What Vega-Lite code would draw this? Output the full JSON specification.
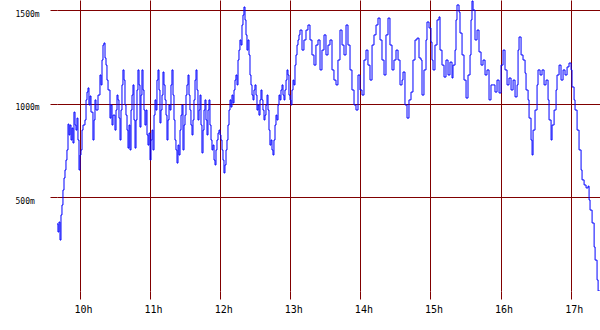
{
  "$schema": "https://vega.github.io/schema/vega-lite/v6.json",
  "width": 543,
  "height": 291,
  "autosize": {"type": "none"},
  "padding": {"left": 57, "top": 0, "right": 0, "bottom": 39},
  "background": "white",
  "view": {"stroke": null},
  "data": {"values": [
    {"hour":9.672,"value":358},{"hour":9.686,"value":315},{"hour":9.700,"value":368},{"hour":9.715,"value":272},{"hour":9.729,"value":406},{"hour":9.743,"value":459},{"hour":9.757,"value":539},{"hour":9.772,"value":603},{"hour":9.786,"value":646},{"hour":9.800,"value":699},{"hour":9.814,"value":753},{"hour":9.829,"value":891},{"hour":9.843,"value":833},{"hour":9.857,"value":886},{"hour":9.872,"value":806},{"hour":9.886,"value":870},{"hour":9.900,"value":790},{"hour":9.914,"value":955},{"hour":9.929,"value":886},{"hour":9.943,"value":859},{"hour":9.957,"value":923},{"hour":9.971,"value":806},{"hour":9.986,"value":646},{"hour":10.000,"value":726},{"hour":10.014,"value":753},{"hour":10.029,"value":859},{"hour":10.043,"value":886},{"hour":10.071,"value":913},{"hour":10.086,"value":1020},{"hour":10.100,"value":1062},{"hour":10.114,"value":1084},{"hour":10.128,"value":993},{"hour":10.143,"value":1041},{"hour":10.157,"value":955},{"hour":10.185,"value":806},{"hour":10.200,"value":913},{"hour":10.214,"value":1020},{"hour":10.228,"value":966},{"hour":10.257,"value":1046},{"hour":10.285,"value":1153},{"hour":10.300,"value":1100},{"hour":10.314,"value":1233},{"hour":10.328,"value":1313},{"hour":10.342,"value":1324},{"hour":10.357,"value":1244},{"hour":10.371,"value":1206},{"hour":10.385,"value":1126},{"hour":10.400,"value":1073},{"hour":10.428,"value":923},{"hour":10.442,"value":993},{"hour":10.457,"value":886},{"hour":10.471,"value":939},{"hour":10.499,"value":859},{"hour":10.514,"value":966},{"hour":10.528,"value":1046},{"hour":10.542,"value":1020},{"hour":10.556,"value":923},{"hour":10.571,"value":806},{"hour":10.585,"value":966},{"hour":10.599,"value":1100},{"hour":10.613,"value":1180},{"hour":10.628,"value":1126},{"hour":10.642,"value":993},{"hour":10.656,"value":939},{"hour":10.671,"value":859},{"hour":10.685,"value":763},{"hour":10.699,"value":886},{"hour":10.713,"value":753},{"hour":10.728,"value":966},{"hour":10.742,"value":1046},{"hour":10.756,"value":1100},{"hour":10.770,"value":913},{"hour":10.785,"value":763},{"hour":10.799,"value":913},{"hour":10.813,"value":1073},{"hour":10.827,"value":1180},{"hour":10.842,"value":1100},{"hour":10.856,"value":875},{"hour":10.870,"value":1046},{"hour":10.884,"value":1180},{"hour":10.899,"value":1073},{"hour":10.913,"value":966},{"hour":10.927,"value":886},{"hour":10.942,"value":966},{"hour":10.956,"value":833},{"hour":10.970,"value":779},{"hour":10.984,"value":843},{"hour":10.999,"value":699},{"hour":11.013,"value":806},{"hour":11.027,"value":859},{"hour":11.041,"value":753},{"hour":11.056,"value":939},{"hour":11.070,"value":1020},{"hour":11.084,"value":966},{"hour":11.098,"value":1126},{"hour":11.113,"value":1180},{"hour":11.127,"value":1073},{"hour":11.141,"value":897},{"hour":11.155,"value":966},{"hour":11.170,"value":1046},{"hour":11.184,"value":1169},{"hour":11.198,"value":1100},{"hour":11.213,"value":1020},{"hour":11.227,"value":939},{"hour":11.241,"value":806},{"hour":11.255,"value":913},{"hour":11.270,"value":993},{"hour":11.284,"value":966},{"hour":11.298,"value":1100},{"hour":11.312,"value":1180},{"hour":11.327,"value":1046},{"hour":11.341,"value":913},{"hour":11.355,"value":806},{"hour":11.369,"value":753},{"hour":11.384,"value":683},{"hour":11.398,"value":779},{"hour":11.412,"value":726},{"hour":11.427,"value":859},{"hour":11.441,"value":939},{"hour":11.455,"value":993},{"hour":11.469,"value":753},{"hour":11.484,"value":886},{"hour":11.498,"value":939},{"hour":11.512,"value":1046},{"hour":11.526,"value":1100},{"hour":11.541,"value":1153},{"hour":11.555,"value":1046},{"hour":11.569,"value":966},{"hour":11.583,"value":886},{"hour":11.598,"value":833},{"hour":11.612,"value":913},{"hour":11.626,"value":1020},{"hour":11.641,"value":1126},{"hour":11.655,"value":1180},{"hour":11.669,"value":1073},{"hour":11.683,"value":913},{"hour":11.698,"value":966},{"hour":11.712,"value":1046},{"hour":11.726,"value":886},{"hour":11.740,"value":737},{"hour":11.755,"value":859},{"hour":11.769,"value":966},{"hour":11.783,"value":1020},{"hour":11.797,"value":913},{"hour":11.812,"value":833},{"hour":11.826,"value":966},{"hour":11.840,"value":1020},{"hour":11.854,"value":886},{"hour":11.869,"value":806},{"hour":11.883,"value":753},{"hour":11.897,"value":779},{"hour":11.912,"value":699},{"hour":11.926,"value":673},{"hour":11.940,"value":753},{"hour":11.954,"value":806},{"hour":11.969,"value":843},{"hour":11.983,"value":859},{"hour":11.997,"value":833},{"hour":12.011,"value":806},{"hour":12.026,"value":753},{"hour":12.040,"value":699},{"hour":12.054,"value":630},{"hour":12.068,"value":673},{"hour":12.083,"value":753},{"hour":12.097,"value":806},{"hour":12.111,"value":886},{"hour":12.126,"value":966},{"hour":12.140,"value":1020},{"hour":12.154,"value":982},{"hour":12.168,"value":1046},{"hour":12.183,"value":1004},{"hour":12.197,"value":1073},{"hour":12.211,"value":1126},{"hour":12.225,"value":1153},{"hour":12.240,"value":1100},{"hour":12.254,"value":1233},{"hour":12.268,"value":1286},{"hour":12.282,"value":1340},{"hour":12.297,"value":1313},{"hour":12.311,"value":1420},{"hour":12.325,"value":1473},{"hour":12.339,"value":1516},{"hour":12.354,"value":1447},{"hour":12.368,"value":1367},{"hour":12.382,"value":1286},{"hour":12.396,"value":1340},{"hour":12.411,"value":1260},{"hour":12.425,"value":1153},{"hour":12.439,"value":1100},{"hour":12.454,"value":1046},{"hour":12.468,"value":1020},{"hour":12.482,"value":1073},{"hour":12.496,"value":1100},{"hour":12.511,"value":1046},{"hour":12.525,"value":966},{"hour":12.539,"value":993},{"hour":12.553,"value":939},{"hour":12.568,"value":1020},{"hour":12.582,"value":1073},{"hour":12.596,"value":1020},{"hour":12.610,"value":966},{"hour":12.625,"value":913},{"hour":12.639,"value":939},{"hour":12.653,"value":993},{"hour":12.668,"value":1046},{"hour":12.682,"value":966},{"hour":12.696,"value":859},{"hour":12.710,"value":779},{"hour":12.725,"value":806},{"hour":12.739,"value":753},{"hour":12.753,"value":726},{"hour":12.767,"value":806},{"hour":12.782,"value":886},{"hour":12.796,"value":939},{"hour":12.810,"value":913},{"hour":12.825,"value":993},{"hour":12.839,"value":1046},{"hour":12.853,"value":1020},{"hour":12.867,"value":1073},{"hour":12.882,"value":1100},{"hour":12.896,"value":1046},{"hour":12.910,"value":1020},{"hour":12.924,"value":1073},{"hour":12.939,"value":1126},{"hour":12.953,"value":1180},{"hour":12.967,"value":1153},{"hour":12.981,"value":1046},{"hour":12.996,"value":1020},{"hour":13.010,"value":993},{"hour":13.024,"value":1073},{"hour":13.039,"value":1126},{"hour":13.053,"value":1100},{"hour":13.067,"value":1206},{"hour":13.081,"value":1260},{"hour":13.096,"value":1313},{"hour":13.110,"value":1340},{"hour":13.124,"value":1367},{"hour":13.138,"value":1393},{"hour":13.167,"value":1286},{"hour":13.195,"value":1340},{"hour":13.224,"value":1393},{"hour":13.252,"value":1420},{"hour":13.281,"value":1340},{"hour":13.309,"value":1260},{"hour":13.338,"value":1206},{"hour":13.366,"value":1313},{"hour":13.395,"value":1340},{"hour":13.424,"value":1180},{"hour":13.452,"value":1286},{"hour":13.481,"value":1367},{"hour":13.509,"value":1260},{"hour":13.538,"value":1313},{"hour":13.566,"value":1340},{"hour":13.595,"value":1180},{"hour":13.623,"value":1126},{"hour":13.652,"value":1100},{"hour":13.680,"value":1233},{"hour":13.709,"value":1393},{"hour":13.738,"value":1313},{"hour":13.766,"value":1260},{"hour":13.795,"value":1420},{"hour":13.823,"value":1313},{"hour":13.852,"value":1180},{"hour":13.880,"value":1073},{"hour":13.909,"value":993},{"hour":13.937,"value":966},{"hour":13.966,"value":1153},{"hour":13.994,"value":1073},{"hour":14.023,"value":1046},{"hour":14.051,"value":1233},{"hour":14.080,"value":1286},{"hour":14.108,"value":1206},{"hour":14.137,"value":1126},{"hour":14.166,"value":1313},{"hour":14.194,"value":1367},{"hour":14.223,"value":1420},{"hour":14.251,"value":1457},{"hour":14.280,"value":1340},{"hour":14.308,"value":1233},{"hour":14.337,"value":1153},{"hour":14.365,"value":1367},{"hour":14.394,"value":1457},{"hour":14.422,"value":1313},{"hour":14.451,"value":1180},{"hour":14.479,"value":1233},{"hour":14.508,"value":1286},{"hour":14.537,"value":1233},{"hour":14.565,"value":1100},{"hour":14.594,"value":1126},{"hour":14.608,"value":1169},{"hour":14.636,"value":993},{"hour":14.665,"value":923},{"hour":14.693,"value":1020},{"hour":14.722,"value":1062},{"hour":14.750,"value":1233},{"hour":14.779,"value":1340},{"hour":14.807,"value":1350},{"hour":14.836,"value":1244},{"hour":14.864,"value":1233},{"hour":14.879,"value":1046},{"hour":14.907,"value":1180},{"hour":14.936,"value":1340},{"hour":14.950,"value":1436},{"hour":14.979,"value":1404},{"hour":15.007,"value":1329},{"hour":15.021,"value":1233},{"hour":15.036,"value":1180},{"hour":15.064,"value":1313},{"hour":15.093,"value":1447},{"hour":15.121,"value":1463},{"hour":15.136,"value":1286},{"hour":15.164,"value":1206},{"hour":15.193,"value":1142},{"hour":15.221,"value":1233},{"hour":15.250,"value":1153},{"hour":15.278,"value":1222},{"hour":15.307,"value":1137},{"hour":15.321,"value":1206},{"hour":15.350,"value":1286},{"hour":15.364,"value":1447},{"hour":15.378,"value":1527},{"hour":15.407,"value":1489},{"hour":15.421,"value":1377},{"hour":15.450,"value":1260},{"hour":15.478,"value":1126},{"hour":15.507,"value":1030},{"hour":15.535,"value":1153},{"hour":15.564,"value":1260},{"hour":15.578,"value":1447},{"hour":15.592,"value":1548},{"hour":15.607,"value":1500},{"hour":15.635,"value":1340},{"hour":15.664,"value":1393},{"hour":15.692,"value":1276},{"hour":15.721,"value":1206},{"hour":15.749,"value":1233},{"hour":15.778,"value":1153},{"hour":15.806,"value":1180},{"hour":15.835,"value":1020},{"hour":15.863,"value":1100},{"hour":15.892,"value":1100},{"hour":15.920,"value":1062},{"hour":15.949,"value":1126},{"hour":15.978,"value":1057},{"hour":16.006,"value":1206},{"hour":16.035,"value":1286},{"hour":16.063,"value":1180},{"hour":16.092,"value":1100},{"hour":16.120,"value":1137},{"hour":16.149,"value":1073},{"hour":16.178,"value":1126},{"hour":16.206,"value":1036},{"hour":16.235,"value":1100},{"hour":16.249,"value":1286},{"hour":16.263,"value":1356},{"hour":16.292,"value":1260},{"hour":16.320,"value":1233},{"hour":16.349,"value":1163},{"hour":16.363,"value":1073},{"hour":16.392,"value":1020},{"hour":16.406,"value":923},{"hour":16.434,"value":806},{"hour":16.449,"value":726},{"hour":16.463,"value":859},{"hour":16.491,"value":966},{"hour":16.520,"value":1100},{"hour":16.534,"value":1180},{"hour":16.563,"value":1153},{"hour":16.591,"value":1180},{"hour":16.620,"value":1100},{"hour":16.648,"value":1126},{"hour":16.677,"value":1020},{"hour":16.691,"value":913},{"hour":16.720,"value":806},{"hour":16.734,"value":886},{"hour":16.763,"value":966},{"hour":16.791,"value":1073},{"hour":16.805,"value":1153},{"hour":16.834,"value":1206},{"hour":16.862,"value":1126},{"hour":16.891,"value":1180},{"hour":16.919,"value":1153},{"hour":16.948,"value":1196},{"hour":16.976,"value":1217},{"hour":17.005,"value":1180},{"hour":17.019,"value":1089},{"hour":17.048,"value":1020},{"hour":17.062,"value":966},{"hour":17.091,"value":859},{"hour":17.119,"value":753},{"hour":17.148,"value":646},{"hour":17.162,"value":593},{"hour":17.191,"value":566},{"hour":17.219,"value":550},{"hour":17.248,"value":560},{"hour":17.262,"value":486},{"hour":17.276,"value":432},{"hour":17.305,"value":363},{"hour":17.334,"value":235},{"hour":17.348,"value":165},{"hour":17.376,"value":59},{"hour":17.391,"value":0},{"hour":17.419,"value":0}
  ]},
  "mark": {"type": "line", "interpolate": "step-after", "color": "#0000ff", "strokeWidth": 1, "clip": true},
  "encoding": {
    "x": {
      "field": "hour", "type": "quantitative",
      "scale": {"domain": [9.672, 17.418], "nice": false, "zero": false},
      "axis": {
        "title": null, "values": [10, 11, 12, 13, 14, 15, 16, 17],
        "labelExpr": "datum.value + 'h'",
        "grid": true, "gridColor": "#800000", "gridOpacity": 1, "gridWidth": 1,
        "domain": false, "tickColor": "#800000", "tickSize": 8, "tickWidth": 1,
        "labelFont": "DejaVu Sans Mono", "labelFontSize": 10, "labelColor": "#000000",
        "labelPadding": 5, "labelOffset": 3, "labelBaseline": "top", "labelFlush": false, "labelOverlap": false
      }
    },
    "y": {
      "field": "value", "type": "quantitative",
      "scale": {"domain": [0, 1553.4], "nice": false, "zero": true},
      "axis": {
        "title": null, "values": [500, 1000, 1500],
        "labelExpr": "datum.value + 'm'",
        "grid": true, "gridColor": "#800000", "gridOpacity": 1, "gridWidth": 1,
        "domain": false, "tickColor": "#800000", "tickSize": 7, "tickWidth": 1,
        "labelFont": "DejaVu Sans Mono", "labelFontSize": 8, "labelColor": "#000000",
        "labelAlign": "left", "labelPadding": 35, "labelBaseline": "middle", "labelOffset": 4,
        "labelFlush": false, "labelOverlap": false
      }
    }
  }
}
